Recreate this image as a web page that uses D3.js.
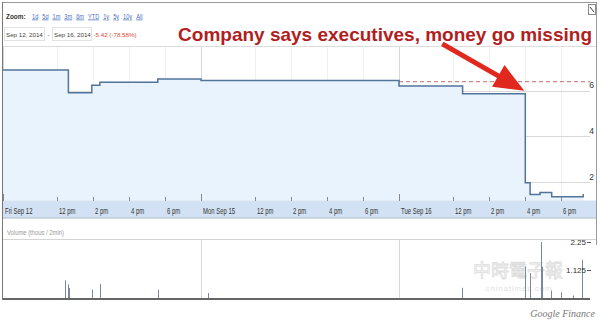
<!DOCTYPE html>
<html>
<head>
<meta charset="utf-8">
<script src="https://cdn.jsdelivr.net/npm/d3@7"></script>
<style>
  body { margin: 0; background: #fff; }
  svg { display: block; font-family: 'Liberation Sans', Arial, sans-serif; }
</style>
</head>
<body>
<svg id="chart" width="600" height="323"></svg>
<script>
// DATA
const sessions = ['Fri Sep 12', 'Mon Sep 15', 'Tue Sep 16']
const zoomLinks = ['1d', '5d', '1m', '3m', '6m', 'YTD', '1y', '5y', '10y', 'All']
const rangeFrom = 'Sep 12, 2014'
const rangeTo = 'Sep 16, 2014'
const rangeChange = '-5.42 (-78.58%)'
const headline = 'Company says executives, money go missing'

// price steps (session index, time, value)
const priceDay = [0, 0, 0, 0, 0, 1, 2, 2, 2, 2, 2, 2, 2]
const priceTime = ['9:00', '12:38', '13:56', '14:23', '17:36', '9:00', '9:00', '12:32', '16:01', '16:17', '16:50', '17:29', '19:14']
const priceValue = [6.9, 5.91, 6.24, 6.37, 6.51, 6.44, 6.2, 5.86, 1.98, 1.46, 1.55, 1.36, 1.48]
const prevClose = 6.39

// volume, thousands per 2 min
const volDay = [0, 0, 0, 0, 0, 0, 1, 2, 2, 2, 2, 2, 2, 2, 2, 2]
const volTime = ['12:25', '12:37', '12:41', '13:56', '14:23', '17:36', '9:24', '12:29', '16:00', '16:17', '16:52', '16:56', '17:28', '17:59', '18:41', '19:11']
const volValue = [0.71, 0.55, 0.4, 0.34, 0.57, 0.33, 0.2, 0.41, 1.26, 1.0, 2.25, 1.26, 0.3, 0.23, 0.1, 1.53]

const tickTime = ['9:00', '12:00', '14:00', '16:00', '18:00']
const tickText = ['', '12 pm', '2 pm', '4 pm', '6 pm']
const priceTicks = [2, 4, 6]
const volTicks = [1.125, 2.25]

const OPEN = 9
const HOURS = 11 // 9am - 8pm per session
const toHours = (day, t) => {
  const [h, m] = t.split(':').map(Number)
  return day * HOURS + h + m / 60 - OPEN
}

// the UI font in the screenshot is a narrow one, squeeze to match
const squeeze = (sel, f) => {
  sel.each(function () {
    const w = this.getComputedTextLength()
    d3.select(this).attr('textLength', w * f).attr('lengthAdjust', 'spacingAndGlyphs')
  })
  return sel
}

const svg = d3.select('#chart')

const x = d3.scaleLinear().domain([0, sessions.length * HOURS]).range([3, 597])
const y = d3.scaleLinear().domain([1.2, 7.95]).range([200.5, 46])
const yVol = d3.scaleLinear().domain([0, 2.25]).range([298, 242])

const prices = priceDay.map((d, i) => ({ h: toHours(d, priceTime[i]), v: priceValue[i] }))
const vols = volDay.map((d, i) => ({ h: toHours(d, volTime[i]), v: volValue[i] }))

// ticks for all sessions
let ticks = []
sessions.forEach((s, di) => {
  tickTime.forEach((t, ti) => {
    ticks.push({ h: toHours(di, t), label: ti === 0 ? s : tickText[ti], day: ti === 0 })
  })
})

// HEADER
svg.append('line').attr('x1', 2).attr('x2', 597).attr('y1', 2.5).attr('y2', 2.5).attr('stroke', '#999')
svg.append('line').attr('x1', 3).attr('x2', 596).attr('y1', 46.5).attr('y2', 46.5).attr('stroke', '#ddd')

let zl = svg.append('text').attr('x', 6).attr('y', 18.5)
  .style('font-size', '8px').style('font-weight', 'bold').attr('fill', '#333')
  .text('Zoom:')
squeeze(zl, 0.8)

let lx = 32
zoomLinks.forEach((z) => {
  let t = svg.append('text').attr('x', lx).attr('y', 18.5)
    .style('font-size', '7.5px').style('text-decoration', 'underline')
    .attr('fill', '#4a72c4').text(z)
  let w = t.node().getComputedTextLength() * 0.75
  t.attr('textLength', w).attr('lengthAdjust', 'spacingAndGlyphs')
  lx += w + 4
})

svg.append('rect').attr('x', 4.5).attr('y', 27.5).attr('width', 40).attr('height', 13)
  .attr('fill', 'none').attr('stroke', '#e2e2e2')
svg.append('rect').attr('x', 52.5).attr('y', 27.5).attr('width', 39).attr('height', 13)
  .attr('fill', 'none').attr('stroke', '#e2e2e2')
svg.append('text').attr('x', 6).attr('y', 36.5).style('font-size', '6.2px').attr('fill', '#444').text(rangeFrom)
svg.append('text').attr('x', 47.5).attr('y', 36.5).style('font-size', '6.2px').attr('fill', '#444').text('-')
svg.append('text').attr('x', 54).attr('y', 36.5).style('font-size', '6.2px').attr('fill', '#444').text(rangeTo)
svg.append('text').attr('x', 93.5).attr('y', 36.5).style('font-size', '6.2px').attr('fill', '#dd4b39').text(rangeChange)

// little expand icon, top right
svg.append('rect').attr('x', 588.5).attr('y', 4.5).attr('width', 7).attr('height', 10)
  .attr('fill', '#fff').attr('stroke', '#8a8a8a')
svg.append('line').attr('x1', 590).attr('y1', 7).attr('x2', 594).attr('y2', 12)
  .attr('stroke', '#334').attr('stroke-width', 1)

svg.append('text').attr('x', 592).attr('y', 41)
  .attr('text-anchor', 'end')
  .style('font-size', '19px').style('font-weight', 'bold')
  .attr('fill', '#b01e1e').text(headline)

// PRICE PANEL
let grid = svg.append('g')
grid.selectAll('.vgrid')
  .data(ticks)
  .enter()
  .append('line')
  .attr('class', 'vgrid')
  .attr('x1', (d) => x(d.h) + 0.5)
  .attr('x2', (d) => x(d.h) + 0.5)
  .attr('y1', 47)
  .attr('y2', 200)
  .attr('stroke', (d) => (d.day ? '#d6d6d6' : '#f0f0f0'))

svg.append('path')
  .datum(prices)
  .attr('d', d3.area().curve(d3.curveStepAfter)
    .x((d) => x(d.h))
    .y0(y.range()[0])
    .y1((d) => y(d.v)))
  .attr('fill', '#e9f3fd')

grid.selectAll('.hgrid')
  .data(priceTicks)
  .enter()
  .append('line')
  .attr('x1', 3)
  .attr('x2', 590)
  .attr('y1', (d) => Math.round(y(d)) + 0.5)
  .attr('y2', (d) => Math.round(y(d)) + 0.5)
  .attr('stroke', '#d9d9d9')
svg.selectAll('.plabel')
  .data(priceTicks)
  .enter()
  .append('text')
  .attr('x', 594)
  .attr('y', (d) => y(d) - 2.5)
  .attr('text-anchor', 'end')
  .style('font-size', '8.5px')
  .attr('fill', '#333')
  .text((d) => d)

// previous close
svg.append('line')
  .attr('x1', x(toHours(2, '9:00')))
  .attr('x2', 590)
  .attr('y1', y(prevClose))
  .attr('y2', y(prevClose))
  .attr('stroke', '#c46a6a')
  .attr('stroke-dasharray', '4,3')

svg.append('path')
  .datum(prices)
  .attr('d', d3.line().curve(d3.curveStepAfter)
    .x((d) => x(d.h))
    .y((d) => y(d.v)))
  .attr('fill', 'none')
  .attr('stroke', '#52739a')
  .style('stroke-width', 1.5)

// x axis band
svg.append('rect').attr('x', 3).attr('y', 200.5).attr('width', 593).attr('height', 17)
  .attr('fill', '#d2e2f4')
svg.append('line').attr('x1', 3).attr('x2', 596).attr('y1', 218).attr('y2', 218)
  .attr('stroke', '#a9b4c0')
svg.selectAll('.xtick')
  .data(ticks)
  .enter()
  .append('line')
  .attr('x1', (d) => x(d.h) + 0.5)
  .attr('x2', (d) => x(d.h) + 0.5)
  .attr('y1', (d) => (d.day ? 194 : 197))
  .attr('y2', 201)
  .attr('stroke', '#888')
let xl = svg.selectAll('.xlabel')
  .data(ticks)
  .enter()
  .append('text')
  .attr('x', (d) => x(d.h) + 2)
  .attr('y', 214)
  .style('font-size', '8.5px')
  .attr('fill', '#333')
  .text((d) => d.label)
squeeze(xl, 0.7)

// frame
svg.append('line').attr('x1', 2.5).attr('x2', 2.5).attr('y1', 2).attr('y2', 300).attr('stroke', '#777')
svg.append('line').attr('x1', 596.5).attr('x2', 596.5).attr('y1', 2).attr('y2', 245).attr('stroke', '#999')

// arrow pointing at the collapse
const drop = prices[8]
const tipX = x(drop.h) - 1
const tipY = y(prices[7].v) - 3
const tailX = tipX - 82
const tailY = tipY - 47
const len = Math.hypot(tipX - tailX, tipY - tailY)
const ux = (tipX - tailX) / len
const uy = (tipY - tailY) / len
const bx = tipX - ux * 30
const by = tipY - uy * 30
svg.append('line')
  .attr('x1', tailX).attr('y1', tailY)
  .attr('x2', bx + ux * 2).attr('y2', by + uy * 2)
  .attr('stroke', '#e0281e').attr('stroke-width', 5)
svg.append('path')
  .attr('d', d3.line()([[tipX, tipY], [bx - uy * 12.5, by + ux * 12.5], [bx + uy * 12.5, by - ux * 12.5]]) + 'Z')
  .attr('fill', '#e0281e')

// VOLUME PANEL
let vl = svg.append('text').attr('x', 7).attr('y', 234.5)
  .style('font-size', '7.5px').attr('fill', '#999').text('Volume (thous / 2min)')
squeeze(vl, 0.78)
svg.append('line').attr('x1', 3).attr('x2', 596).attr('y1', 239.5).attr('y2', 239.5).attr('stroke', '#d4d4d4')

svg.selectAll('.vday')
  .data(sessions.slice(1))
  .enter()
  .append('line')
  .attr('x1', (d, i) => x((i + 1) * HOURS) + 0.5)
  .attr('x2', (d, i) => x((i + 1) * HOURS) + 0.5)
  .attr('y1', 240)
  .attr('y2', 298)
  .attr('stroke', '#d8d8d8')

// watermark
let wm = svg.append('g').attr('opacity', 0.5)
wm.append('text').attr('x', 518).attr('y', 277)
  .attr('text-anchor', 'middle')
  .style('font-family', "'Noto Sans CJK TC', sans-serif")
  .style('font-size', '18px')
  .attr('fill', '#fff').attr('stroke', '#bcbcbc').attr('stroke-width', 0.8)
  .text('中時電子報')
wm.append('text').attr('x', 519).attr('y', 291)
  .attr('text-anchor', 'middle')
  .style('font-size', '8px').style('letter-spacing', '0.8px')
  .attr('fill', '#c4c4c4')
  .text('chinatimes.com')

svg.selectAll('.vbar')
  .data(vols)
  .enter()
  .append('line')
  .attr('class', 'vbar')
  .attr('x1', (d) => Math.round(x(d.h)) + 0.5)
  .attr('x2', (d) => Math.round(x(d.h)) + 0.5)
  .attr('y1', yVol(0))
  .attr('y2', (d) => yVol(d.v))
  .attr('stroke', '#7d889c')

svg.append('line').attr('x1', 3).attr('x2', 590).attr('y1', 299).attr('y2', 299)
  .attr('stroke', '#333').attr('stroke-width', 1.5)

svg.selectAll('.vtick')
  .data(volTicks)
  .enter()
  .append('line')
  .attr('x1', 587)
  .attr('x2', 591)
  .attr('y1', (d) => Math.round(yVol(d)) + 0.5)
  .attr('y2', (d) => Math.round(yVol(d)) + 0.5)
  .attr('stroke', '#555')
svg.selectAll('.vlabel')
  .data(volTicks)
  .enter()
  .append('text')
  .attr('x', 586)
  .attr('y', (d) => yVol(d) + 2.5)
  .attr('text-anchor', 'end')
  .style('font-size', '8px')
  .attr('fill', '#333')
  .text((d) => d)

svg.append('text').attr('x', 595).attr('y', 316.5)
  .attr('text-anchor', 'end')
  .style('font-family', "'Liberation Serif', serif")
  .style('font-style', 'italic')
  .style('font-size', '10px')
  .attr('fill', '#777')
  .text('Google Finance')
</script>
</body>
</html>
